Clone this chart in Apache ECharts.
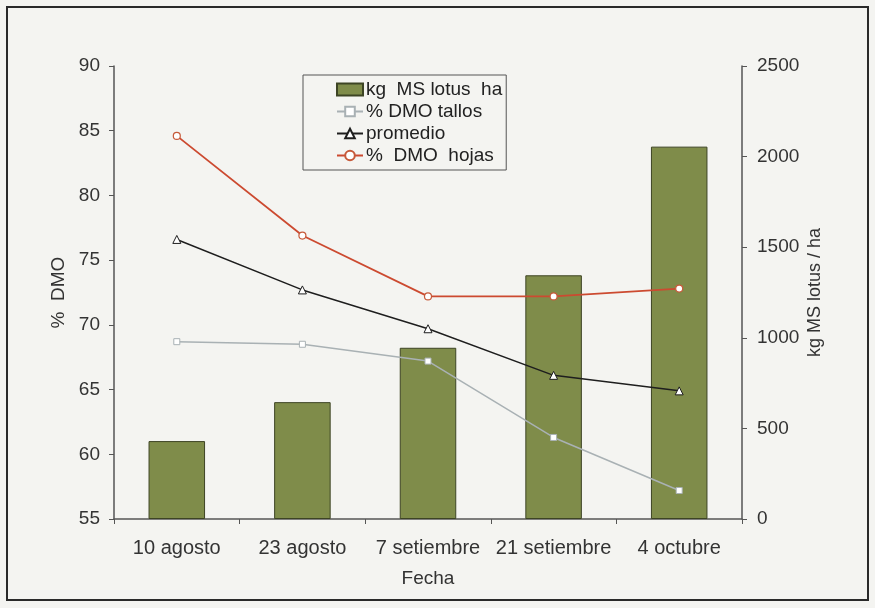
<!DOCTYPE html>
<html>
<head>
<meta charset="utf-8">
<script src="https://cdn.jsdelivr.net/npm/echarts@6/dist/echarts.min.js"></script>
<style>
  html, body { margin: 0; padding: 0; background: #f4f4f1; }
  #chart { width: 875px; height: 608px; }
</style>
</head>
<body>
<div id="chart"></div>
<script>
// Sampling dates
const categories = ['10 agosto', '23 agosto', '7 setiembre', '21 setiembre', '4 octubre'];
// Dry matter of lotus (kg MS / ha), right axis
const kgMsLotus = [430, 645, 945, 1345, 2055];
// Digestibility (% DMO), left axis
const dmoTallos = [68.7, 68.5, 67.2, 61.3, 57.2];
const promedio = [76.6, 72.7, 69.7, 66.1, 64.9];
const dmoHojas = [84.6, 76.9, 72.2, 72.2, 72.8];

const font = "'Liberation Sans', Arial, sans-serif";
const txt = size => ({ color: '#333', fontSize: size, fontFamily: font });

const chart = echarts.init(document.getElementById('chart'));
chart.setOption({
  backgroundColor: '#f4f4f1',
  animation: false,
  graphic: [{
    type: 'rect',
    shape: { x: 7, y: 7, width: 861, height: 593 },
    style: { fill: 'none', stroke: '#2a2a2a', lineWidth: 2 },
    silent: true, z: 100
  }],
  grid: { left: 114, right: 133, top: 66, bottom: 89 },
  legend: {
    orient: 'vertical',
    left: 303, top: 75,
    padding: [5, 4, 5, 33],
    itemGap: 3,
    itemWidth: 26, itemHeight: 12,
    borderColor: '#555', borderWidth: 1,
    backgroundColor: '#f4f4f1',
    textStyle: Object.assign({ padding: [0, 0, 0, -2] }, txt(19), { color: '#222' }),
    data: [
      { name: 'kg  MS lotus  ha', icon: 'rect' },
      '% DMO tallos', 'promedio', '%  DMO  hojas'
    ]
  },
  xAxis: {
    type: 'category',
    data: categories,
    name: 'Fecha',
    nameLocation: 'middle',
    nameGap: 50,
    nameMoveOverlap: false,
    nameTextStyle: txt(19),
    axisLine: { lineStyle: { color: '#555', width: 1.5 } },
    axisTick: { show: true, length: 5, interval: 0, lineStyle: { color: '#555' } },
    axisLabel: Object.assign({ margin: 19, interval: 0, hideOverlap: false }, txt(20))
  },
  yAxis: [{
    type: 'value',
    min: 55, max: 90, interval: 5,
    name: '%  DMO',
    nameLocation: 'middle',
    nameGap: 46,
    nameMoveOverlap: false,
    nameTextStyle: txt(19),
    axisLine: { show: true, lineStyle: { color: '#555', width: 1.5 } },
    axisTick: { show: true, length: 5, lineStyle: { color: '#555' } },
    axisLabel: Object.assign({ margin: 14 }, txt(19)),
    splitLine: { show: false }
  }, {
    type: 'value',
    min: 0, max: 2500, interval: 500,
    name: 'kg MS lotus / ha',
    nameLocation: 'middle',
    nameGap: 64,
    nameMoveOverlap: false,
    nameTextStyle: txt(18),
    axisLine: { show: true, lineStyle: { color: '#555', width: 1.5 } },
    axisTick: { show: true, length: 5, lineStyle: { color: '#555' } },
    axisLabel: Object.assign({ margin: 15, formatter: v => String(v) }, txt(19)),
    splitLine: { show: false }
  }],
  series: [{
    name: 'kg  MS lotus  ha',
    type: 'bar',
    yAxisIndex: 1,
    data: kgMsLotus,
    barWidth: '45%',
    itemStyle: { color: '#7f8c4a', borderColor: '#3d4424', borderWidth: 1 }
  }, {
    name: '% DMO tallos',
    type: 'line',
    yAxisIndex: 0,
    data: dmoTallos,
    symbol: 'rect', symbolSize: 6,
    lineStyle: { color: '#a9b1b4', width: 1.5 },
    itemStyle: { color: '#ffffff', borderColor: '#a9b1b4', borderWidth: 1 }
  }, {
    name: 'promedio',
    type: 'line',
    yAxisIndex: 0,
    data: promedio,
    symbol: 'triangle', symbolSize: 8,
    lineStyle: { color: '#1e1e1e', width: 1.5 },
    itemStyle: { color: '#ffffff', borderColor: '#1e1e1e', borderWidth: 1 }
  }, {
    name: '%  DMO  hojas',
    type: 'line',
    yAxisIndex: 0,
    data: dmoHojas,
    symbol: 'circle', symbolSize: 7,
    lineStyle: { color: '#cc4a30', width: 1.8 },
    itemStyle: { color: '#ffffff', borderColor: '#c65a3a', borderWidth: 1.2 }
  }]
});
</script>
</body>
</html>
